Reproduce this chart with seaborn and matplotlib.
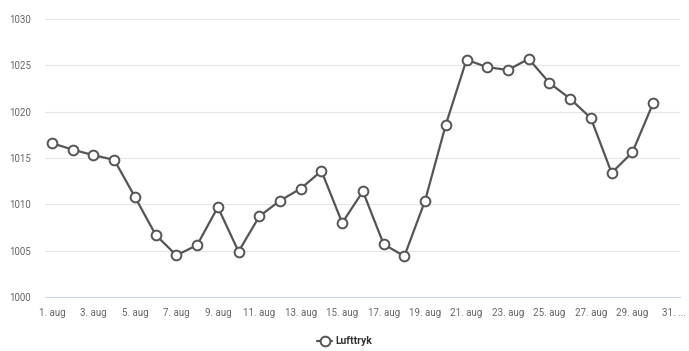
import pandas as pd
import matplotlib.pyplot as plt
import seaborn as sns

days = list(range(1, 31))
pressure = [1016.6, 1015.9, 1015.3, 1014.8, 1010.8, 1006.7, 1004.5, 1005.6, 1009.7, 1004.9,
            1008.7, 1010.4, 1011.7, 1013.6, 1008.0, 1011.4, 1005.7, 1004.4, 1010.4, 1018.6,
            1025.6, 1024.8, 1024.5, 1025.7, 1023.1, 1021.4, 1019.3, 1013.4, 1015.6, 1020.9]
tick_days = list(range(1, 32, 2))
tick_labels = [f'{d}. aug' for d in tick_days[:-1]] + ['31. ...']
y_ticks = [1000, 1005, 1010, 1015, 1020, 1025, 1030]

df = pd.DataFrame({'idx': [d - 1 for d in days], 'Lufttryk': pressure})

sns.set_style('white')
plt.rcParams['font.family'] = ['Roboto', 'DejaVu Sans']

fig = plt.figure(figsize=(6.89, 3.51), dpi=100)
ax = fig.add_axes([45 / 689, 1 - 297 / 351, 635 / 689, 278 / 351])

sns.lineplot(data=df, x='idx', y='Lufttryk', ax=ax, color='#555555', linewidth=1.6,
             marker='o', markersize=7, markerfacecolor='white', markeredgecolor='#555555',
             markeredgewidth=1.4, label='Lufttryk', zorder=3)

ax.set_xlim(-0.34, 30.3)
ax.set_ylim(1000, 1030)
ax.set_yticks(y_ticks)
ax.set_yticklabels([str(v) for v in y_ticks], fontsize=7, color='#666666')
ax.set_xticks([d - 1 for d in tick_days])
ax.set_xticklabels(tick_labels, fontsize=7, color='#666666')
ax.tick_params(axis='y', length=0, pad=10)
ax.tick_params(axis='x', length=6, width=0.8, color='#ccd6eb', direction='out', pad=2)
ax.grid(axis='y', color='#e6e6e6', linewidth=0.8)
ax.set_axisbelow(True)
for s in ['top', 'right', 'left']:
    ax.spines[s].set_visible(False)
ax.spines['bottom'].set_color('#ccd6eb')
ax.spines['bottom'].set_linewidth(0.8)
ax.set_xlabel('')
ax.set_ylabel('')

# legend centred on the figure, not the axes
leg = ax.legend(loc='center', bbox_to_anchor=(0.472, -0.16), frameon=False,
                prop={'weight': 'bold', 'size': 7.5}, handlelength=1.4, handletextpad=0.3)
for t in leg.get_texts():
    t.set_color('#333333')

fig.savefig('out.png', dpi=100)
